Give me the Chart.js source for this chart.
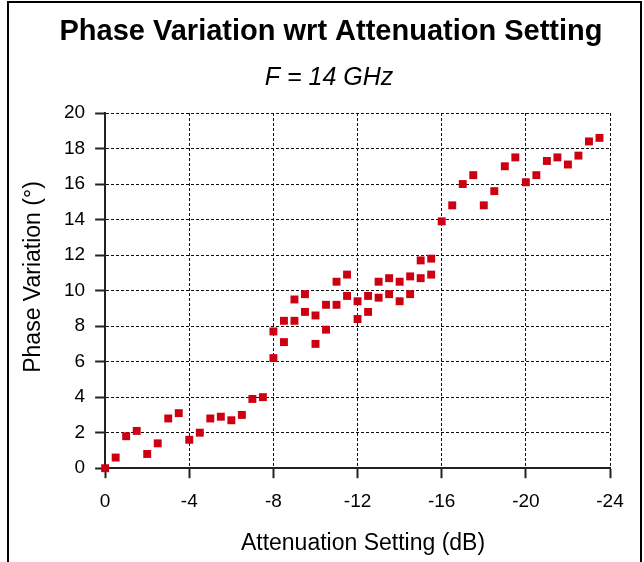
<!DOCTYPE html>
<html>
<head>
<meta charset="utf-8">
<title>Phase Variation wrt Attenuation Setting</title>
<script src="https://cdn.jsdelivr.net/npm/chart.js@4/dist/chart.umd.min.js"></script>
<style>
  body { margin: 0; background: #fff; }
  #wrap { width: 644px; height: 562px; }
</style>
</head>
<body>
<div id="wrap"><canvas id="myChart" width="644" height="562"></canvas></div>
<script>
const attenuation = [
  0, -0.5, -1, -1.5, -2, -2.5, -3, -3.5, -4, -4.5, -5, -5.5, -6, -6.5, -7, -7.5,
  -8, -8, -8.5, -8.5, -9, -9, -9.5, -9.5, -10, -10, -10.5, -10.5, -11, -11,
  -11.5, -11.5, -12, -12, -12.5, -12.5, -13, -13, -13.5, -13.5, -14, -14,
  -14.5, -14.5, -15, -15, -15.5, -15.5,
  -16, -16.5, -17, -17.5, -18, -18.5, -19, -19.5, -20, -20.5, -21, -21.5,
  -22, -22.5, -23, -23.5
];
const phase = [
  0, 0.6, 1.8, 2.1, 0.8, 1.4, 2.8, 3.1, 1.6, 2.0, 2.8, 2.9, 2.7, 3.0, 3.9, 4.0,
  7.7, 6.2, 8.3, 7.1, 9.5, 8.3, 9.8, 8.8, 8.6, 7.0, 9.2, 7.8, 10.5, 9.2,
  10.9, 9.7, 9.4, 8.4, 9.7, 8.8, 10.5, 9.6, 10.7, 9.8, 10.5, 9.4,
  10.8, 9.8, 11.7, 10.7, 11.8, 10.9,
  13.9, 14.8, 16.0, 16.5, 14.8, 15.6, 17.0, 17.5, 16.1, 16.5, 17.3, 17.5,
  17.1, 17.6, 18.4, 18.6
];
const xTicks = [0, -4, -8, -12, -16, -20, -24];
const yTicks = [0, 2, 4, 6, 8, 10, 12, 14, 16, 18, 20];

const points = attenuation.map((a, i) => ({ x: a, y: phase[i] }));

const fontFam = "'Liberation Sans', Arial, sans-serif";

// titles are placed by hand (the original isn't centred on the plot),
// plus the outer frame: left, top, right edges only
const decorPlugin = {
  id: "decor",
  afterDraw(chart) {
    const ctx = chart.ctx;
    ctx.save();
    ctx.fillStyle = "#000";
    ctx.textAlign = "center";
    ctx.textBaseline = "alphabetic";

    ctx.font = "bold 29px " + fontFam;
    ctx.fillText("Phase Variation wrt Attenuation Setting", 331, 40);

    ctx.font = "italic 25px " + fontFam;
    ctx.fillText("F = 14 GHz", 329, 85);

    ctx.font = "23px " + fontFam;
    ctx.fillText("Attenuation Setting (dB)", 363, 550);

    ctx.save();
    ctx.translate(40, 277);
    ctx.rotate(-Math.PI / 2);
    ctx.fillText("Phase Variation (°)", 0, 0);
    ctx.restore();

    ctx.strokeStyle = "#000";
    ctx.lineWidth = 2;
    ctx.beginPath();
    ctx.moveTo(8, 562);
    ctx.lineTo(8, 2);
    ctx.lineTo(641, 2);
    ctx.lineTo(641, 562);
    ctx.stroke();
    ctx.restore();
  }
};

const gridOpts = {
  color: "#111",
  lineWidth: 1,
  tickLength: 10,
  tickColor: "#222",
  tickWidth: 2,
  tickBorderDash: []
};

new Chart(document.getElementById("myChart"), {
  type: "scatter",
  data: {
    datasets: [{
      label: "Phase",
      data: points,
      pointStyle: "rect",
      pointRadius: 5.6,
      pointHoverRadius: 5.6,
      backgroundColor: "#cc0010",
      borderColor: "#cc0010",
      borderWidth: 0,
      clip: false
    }]
  },
  options: {
    responsive: false,
    devicePixelRatio: 1,
    animation: false,
    layout: { padding: { left: 54, right: 34, top: 113, bottom: 37 } },
    plugins: {
      legend: { display: false },
      tooltip: { enabled: false }
    },
    scales: {
      x: {
        type: "linear",
        reverse: true,
        min: -24,
        max: 0,
        afterBuildTicks: (scale) => { scale.ticks = xTicks.map(v => ({ value: v })); },
        ticks: {
          color: "#000",
          font: { family: fontFam, size: 19 },
          padding: 12
        },
        grid: gridOpts,
        border: { display: true, color: "#222", width: 2, dash: [3, 2] }
      },
      y: {
        min: 0,
        max: 20,
        afterBuildTicks: (scale) => { scale.ticks = yTicks.map(v => ({ value: v })); },
        ticks: {
          color: "#000",
          font: { family: fontFam, size: 19 },
          padding: 10
        },
        grid: gridOpts,
        border: { display: true, color: "#222", width: 2, dash: [3, 2] }
      }
    }
  },
  plugins: [decorPlugin]
});
</script>
</body>
</html>
